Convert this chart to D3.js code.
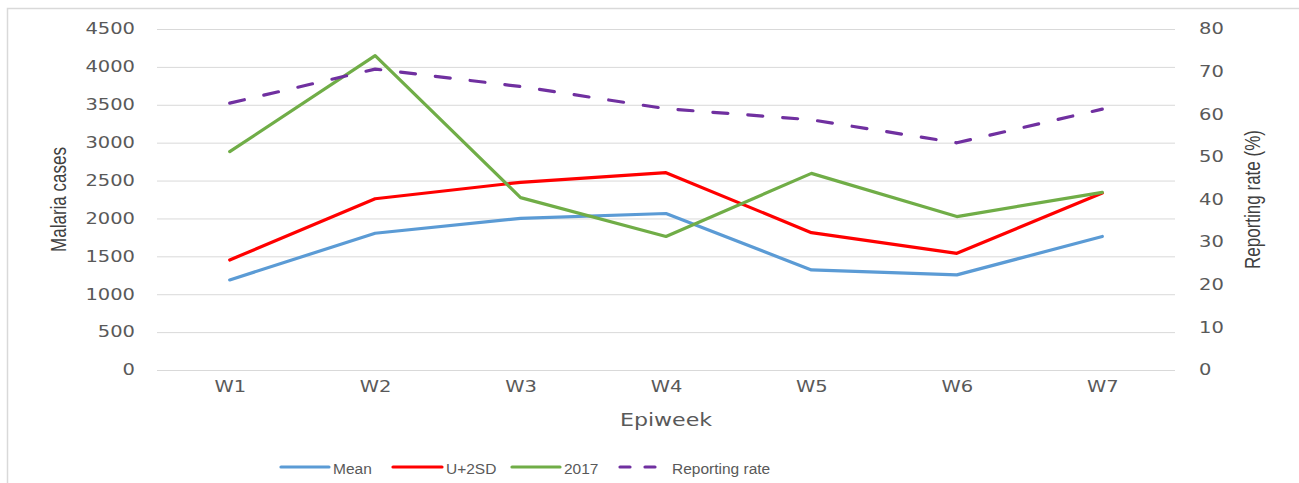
<!DOCTYPE html>
<html>
<head>
<meta charset="utf-8">
<script src="https://cdn.jsdelivr.net/npm/d3@7"></script>
<style>
  body { margin: 0; background: #fff; }
  svg { display: block; }
</style>
</head>
<body>
<div id="chart"></div>
<script>
// data
const weeks = ['W1', 'W2', 'W3', 'W4', 'W5', 'W6', 'W7'];
const meanCases = [1188, 1805, 2002, 2065, 1320, 1255, 1762];
const upper2sd = [1452, 2260, 2477, 2604, 1812, 1540, 2335];
const cases2017 = [2881, 4148, 2275, 1762, 2595, 2025, 2345];
const reportingRate = [62.6, 70.6, 66.5, 61.3, 58.7, 53.3, 61.2];
const leftTicks = [0, 500, 1000, 1500, 2000, 2500, 3000, 3500, 4000, 4500];
const rightTicks = [0, 10, 20, 30, 40, 50, 60, 70, 80];

let width = 1299, height = 483;
const margin = {top: 29, right: 124, bottom: 113, left: 157};
const innerwidth = width - margin.left - margin.right;
const innerheight = height - margin.top - margin.bottom;
const sx = 1.3; // the picture is stretched sideways

const svg = d3.select('#chart').append('svg')
    .attr('width', width)
    .attr('height', height);

// outer frame
svg.append('rect')
    .attr('x', 7.5).attr('y', 8.5)
    .attr('width', width).attr('height', height)
    .attr('fill', 'none')
    .attr('stroke', '#d9d9d9')
    .attr('stroke-width', 1.5);

const g = svg.append('g')
    .attr('transform', 'translate(' + margin.left + ',' + margin.top + ')');

const xscale = d3.scalePoint()
    .domain(weeks)
    .range([0, innerwidth])
    .padding(0.5);

const yleft = d3.scaleLinear().domain([0, 4500]).range([innerheight, 0]);
const yright = d3.scaleLinear().domain([0, 80]).range([innerheight, 0]);

// gridlines
g.append('g')
    .selectAll('line')
    .data(leftTicks)
    .enter()
    .append('line')
    .attr('x1', 0).attr('x2', innerwidth)
    .attr('y1', d => yleft(d) + 0.5).attr('y2', d => yleft(d) + 0.5)
    .attr('stroke', '#d9d9d9')
    .attr('stroke-width', 1);

const tickFont = 'DejaVu Sans, Verdana, sans-serif';

const stretch = (sel, xoff) => {
    sel.selectAll('text')
        .attr('x', xoff / sx)
        .attr('transform', 'scale(' + sx + ',1)')
        .attr('fill', '#595959')
        .style('font-family', tickFont)
        .style('font-size', '15px');
};

const yaxisL = g.append('g')
    .call(d3.axisLeft(yleft).tickValues(leftTicks).tickFormat(d3.format('d'))
        .tickSize(0).tickPadding(22));
yaxisL.select('.domain').remove();
stretch(yaxisL, -22);

const yaxisR = g.append('g')
    .attr('transform', 'translate(' + innerwidth + ',0)')
    .call(d3.axisRight(yright).tickValues(rightTicks).tickFormat(d3.format('d'))
        .tickSize(0).tickPadding(24));
yaxisR.select('.domain').remove();
stretch(yaxisR, 24);

const xaxisG = g.append('g')
    .attr('transform', 'translate(0,' + innerheight + ')')
    .call(d3.axisBottom(xscale).tickSize(0).tickPadding(11));
xaxisG.select('.domain').remove();
xaxisG.selectAll('text')
    .attr('transform', 'scale(' + sx + ',1)')
    .attr('x', 0)
    .attr('fill', '#595959')
    .style('font-family', tickFont)
    .style('font-size', '15px');

// axis titles
g.append('text')
    .attr('transform', 'translate(' + innerwidth / 2 + ',' + (innerheight + 56) + ') scale(' + sx + ',1)')
    .attr('text-anchor', 'middle')
    .attr('fill', '#595959')
    .style('font-family', tickFont)
    .style('font-size', '17px')
    .text('Epiweek');

g.append('text')
    .attr('transform', 'translate(-91,' + innerheight / 2 + ') rotate(-90) scale(1,' + sx + ')')
    .attr('text-anchor', 'middle')
    .attr('fill', '#404040')
    .style('font-family', 'Liberation Sans Narrow, Liberation Sans, Arial, sans-serif')
    .style('font-size', '17px')
    .text('Malaria cases');

g.append('text')
    .attr('transform', 'translate(' + (innerwidth + 85) + ',' + innerheight / 2 + ') rotate(-90) scale(1,' + sx + ')')
    .attr('text-anchor', 'middle')
    .attr('fill', '#404040')
    .style('font-family', 'Liberation Sans Narrow, Liberation Sans, Arial, sans-serif')
    .style('font-size', '17px')
    .text('Reporting rate (%)');

// series
const series = [
    {name: 'Mean', values: meanCases, color: '#5b9bd5', scale: yleft, dash: null},
    {name: 'U+2SD', values: upper2sd, color: '#ff0000', scale: yleft, dash: null},
    {name: '2017', values: cases2017, color: '#70ad47', scale: yleft, dash: null},
    {name: 'Reporting rate', values: reportingRate, color: '#7030a0', scale: yright, dash: '15,20'}
];

series.forEach(s => {
    const line = d3.line()
        .x((d, i) => xscale(weeks[i]))
        .y(d => s.scale(d));
    g.append('path')
        .datum(s.values)
        .attr('d', line)
        .attr('fill', 'none')
        .attr('stroke', s.color)
        .attr('stroke-width', 3.2)
        .attr('stroke-linejoin', 'round')
        .attr('stroke-linecap', 'round')
        .attr('stroke-dasharray', s.dash);
});

// legend
const legendPos = [281, 393, 512, 620];
const legendLen = [48, 49, 48, 37];
const legend = svg.append('g').attr('transform', 'translate(0,467)');
series.forEach((s, i) => {
    legend.append('line')
        .attr('x1', legendPos[i]).attr('x2', legendPos[i] + legendLen[i])
        .attr('y1', 0).attr('y2', 0)
        .attr('stroke', s.color)
        .attr('stroke-width', 3.2)
        .attr('stroke-linecap', 'round')
        .attr('stroke-dasharray', s.dash ? '10,15' : null);
    legend.append('text')
        .attr('x', legendPos[i] + legendLen[i] + (s.dash ? 15 : 4))
        .attr('y', 1.5)
        .attr('dy', '0.35em')
        .attr('fill', '#595959')
        .style('font-family', 'Liberation Sans, Arial, sans-serif')
        .style('font-size', '15.5px')
        .text(s.name);
});
</script>
</body>
</html>
